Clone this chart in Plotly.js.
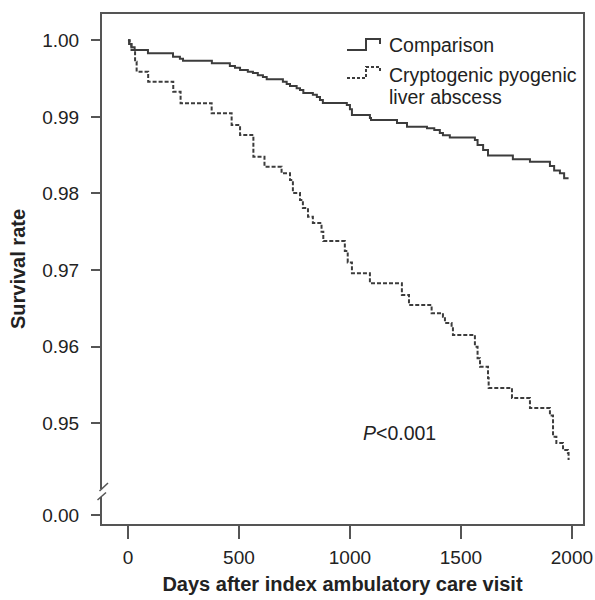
<!DOCTYPE html>
<html>
<head>
<meta charset="utf-8">
<script src="https://cdn.plot.ly/plotly-3.0.1.min.js"></script>
<style>
  html, body { margin: 0; padding: 0; background: #fff; }
  #chart { width: 595px; height: 600px; }
</style>
</head>
<body>
<div id="chart"></div>
<script>
// ---- Data ----
const seriesNames = ["Comparison", "Cryptogenic pyogenic", "liver abscess"];

const daysComparison = [0, 5, 15, 30, 90, 203, 234, 248, 378, 459, 482, 505, 540, 563, 585, 608, 625, 698, 715, 730, 760, 775, 790, 833, 851, 865, 878, 986, 1000, 1009, 1090, 1095, 1212, 1257, 1347, 1380, 1405, 1419, 1450, 1563, 1575, 1600, 1622, 1734, 1811, 1901, 1920, 1946, 1965, 1985];
const survComparison = [1.0000, 0.9995, 0.9991, 0.99873, 0.99830, 0.99786, 0.99760, 0.99734, 0.99700, 0.99665, 0.99640, 0.99612, 0.99590, 0.99573, 0.99545, 0.99521, 0.99490, 0.99460, 0.99430, 0.99403, 0.99375, 0.99351, 0.99312, 0.99290, 0.99260, 0.99220, 0.99182, 0.99155, 0.99100, 0.99025, 0.98986, 0.98960, 0.98920, 0.98872, 0.98850, 0.98829, 0.98790, 0.98760, 0.98731, 0.98698, 0.98633, 0.98568, 0.98496, 0.98447, 0.98415, 0.98360, 0.98300, 0.98264, 0.98198, 0.98198];

const daysCPLA = [0, 8, 16, 32, 39, 91, 204, 237, 377, 467, 505, 565, 615, 692, 730, 743, 775, 788, 811, 833, 872, 880, 977, 990, 1009, 1090, 1234, 1266, 1368, 1419, 1428, 1458, 1464, 1563, 1575, 1586, 1622, 1625, 1730, 1811, 1901, 1915, 1930, 1960, 1982, 1985];
const survCPLA = [1.000, 0.9995, 0.99873, 0.99721, 0.99590, 0.99460, 0.99329, 0.99178, 0.99047, 0.98894, 0.98764, 0.98480, 0.98350, 0.98264, 0.98176, 0.98006, 0.97916, 0.97810, 0.97697, 0.97615, 0.97501, 0.97380, 0.97250, 0.97100, 0.96958, 0.96828, 0.96675, 0.96544, 0.96436, 0.96392, 0.96309, 0.96261, 0.96153, 0.96000, 0.95850, 0.95739, 0.95592, 0.95461, 0.95330, 0.95200, 0.95100, 0.94825, 0.94743, 0.94651, 0.94612, 0.94521];

const xTickVals = [0, 500, 1000, 1500, 2000];
const xTickLabels = ["0", "500", "1000", "1500", "2000"];
const yTickVals = [0.95, 0.96, 0.97, 0.98, 0.99, 1.00];
const yTickLabels = ["0.95", "0.96", "0.97", "0.98", "0.99", "1.00"];
const yZeroLabel = "0.00";
const pValueText = "<i>P</i>&lt;0.001";

// ---- Layout helpers ----
const BREAK_ZERO_POS = 0.938; // where the broken axis shows 0.00
const FONT = "Liberation Sans, Arial, Helvetica, sans-serif";
const TXT = "#222";
const AX = "#555";
const LINE = "#3c3c3c";

const M = {l: 102, r: 12, t: 14, b: 76};
const W = 595, H = 600;
const PW = W - M.l - M.r, PH = H - M.t - M.b;
const px = x => (x - M.l) / PW;
const py = y => (H - M.b - y) / PH;
const pathOf = pts => pts.map((p, i) => (i ? "L" : "M") + px(p[0]).toFixed(5) + "," + py(p[1]).toFixed(5)).join(" ");

const traces = [
  {
    x: daysComparison, y: survComparison, type: "scatter", mode: "lines",
    line: {shape: "hv", color: LINE, width: 2}, name: seriesNames[0], showlegend: false
  },
  {
    x: daysCPLA, y: survCPLA, type: "scatter", mode: "lines",
    line: {shape: "hv", color: LINE, width: 2, dash: "4px,2px"}, name: seriesNames[1] + " " + seriesNames[2], showlegend: false
  }
];

const layout = {
  width: W, height: H,
  margin: M,
  paper_bgcolor: "#fff", plot_bgcolor: "#fff",
  font: {family: FONT, color: TXT, size: 19},
  showlegend: false,
  xaxis: {
    range: [-117, 2050],
    tickmode: "array", tickvals: xTickVals, ticktext: xTickLabels,
    ticks: "outside", ticklen: 13, tickwidth: 2, tickcolor: AX,
    showline: true, linecolor: AX, linewidth: 2, mirror: true,
    showgrid: false, zeroline: false,
    tickfont: {size: 19, color: TXT},
    ticklabelstandoff: 2,
    title: {text: "<b>Days after index ambulatory care visit</b>", font: {size: 20, color: TXT}, standoff: 10}
  },
  yaxis: {
    range: [0.93685, 1.00343],
    tickmode: "array",
    tickvals: [BREAK_ZERO_POS].concat(yTickVals),
    ticktext: [yZeroLabel].concat(yTickLabels),
    ticks: "outside", ticklen: 9, tickwidth: 2, tickcolor: AX,
    showline: true, linecolor: AX, linewidth: 2, mirror: true,
    showgrid: false, zeroline: false,
    tickfont: {size: 19, color: TXT},
    ticklabelstandoff: 8,
    title: {text: "<b>Survival rate</b>", font: {size: 20, color: TXT}, standoff: 11}
  },
  shapes: [
    // axis break
    {type: "rect", xref: "paper", yref: "paper", x0: px(99), x1: px(105), y0: py(497), y1: py(489),
     fillcolor: "#fff", line: {width: 0}, layer: "above"},
    {type: "line", xref: "paper", yref: "paper", x0: px(99.5), y0: py(491), x1: px(108), y1: py(483),
     line: {color: AX, width: 1.5}, layer: "above"},
    {type: "line", xref: "paper", yref: "paper", x0: px(97.5), y0: py(500), x1: px(106), y1: py(492.5),
     line: {color: AX, width: 1.5}, layer: "above"},
    // legend icons
    {type: "path", xref: "paper", yref: "paper", path: pathOf([[347, 50], [366, 50], [366, 39], [380, 39], [380, 44]]),
     line: {color: LINE, width: 2}},
    {type: "path", xref: "paper", yref: "paper", path: pathOf([[347, 78], [366, 78], [366, 67], [380, 67], [380, 72]]),
     line: {color: LINE, width: 2, dash: "3px,2px"}}
  ],
  annotations: [
    {xref: "paper", yref: "paper", x: px(387), y: py(44.5), xanchor: "left", yanchor: "middle",
     text: seriesNames[0], showarrow: false, font: {size: 19.5, color: TXT}},
    {xref: "paper", yref: "paper", x: px(387), y: py(74.5), xanchor: "left", yanchor: "middle",
     text: seriesNames[1], showarrow: false, font: {size: 19.5, color: TXT}},
    {xref: "paper", yref: "paper", x: px(387), y: py(97), xanchor: "left", yanchor: "middle",
     text: seriesNames[2], showarrow: false, font: {size: 19.5, color: TXT}},
    {xref: "paper", yref: "paper", x: px(361), y: py(433), xanchor: "left", yanchor: "middle",
     text: pValueText, showarrow: false, font: {size: 19.5, color: TXT}}
  ]
};

Plotly.newPlot("chart", traces, layout, {staticPlot: true, displayModeBar: false});
</script>
</body>
</html>
